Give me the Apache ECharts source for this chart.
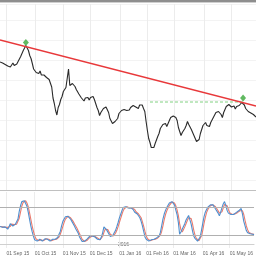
<!DOCTYPE html>
<html><head><meta charset="utf-8">
<script src="https://cdn.jsdelivr.net/npm/echarts@6/dist/echarts.min.js"></script>
<style>html,body{margin:0;padding:0;background:#fff}#c{width:256px;height:256px}</style>
</head><body><div id="c"></div>
<script>
// trading days (weekdays) from 25 Aug 2015
const startDate = '2015-08-25';
const dayCount = 199;
const monthNames = ['Jan','Feb','Mar','Apr','May','Jun','Jul','Aug','Sep','Oct','Nov','Dec'];

const closePrice = [
138,136.5,137,135,135.5,133.5,134,132,133,134.5,
137,134.5,135,136,138.5,140.5,143.5,145.5,149.5,151.5,
154.5,152,149.5,144.5,141.5,136.5,131,129.5,127.5,129.5,
126.5,129,125,126.5,125,124.5,122.5,123.5,120.5,119,
113,102,96.5,89.5,85,92.5,95.5,100.5,103.5,108.5,
110.5,112.5,113.5,131,114.5,114.5,116.5,114.5,113.5,110.5,
109.5,106,106.5,102,102.5,99,102,100.5,102.5,100,
102.5,102.5,103.5,100.5,98.5,92.5,89.5,84.5,87.5,88.5,
91.5,91.5,93,91.5,87.5,81.5,79.5,76.5,78.5,78.5,
80.5,81.5,86.5,87.5,89.5,89.5,90.5,89,89.5,87.5,
90,92.5,93,94.5,95,93,94.5,91.5,95,94,
95,91.5,88.5,78.5,69.5,61.5,57.5,52.5,50.5,52.5,
56.5,58.5,63.5,66.5,71.5,72.5,75.5,76.5,76.5,73.5,
74.5,79.5,82.5,84.5,84,85.5,82.5,79.5,72.5,68.5,
64.5,67.5,68.5,71.5,74.5,78.5,75.5,74.5,70.5,68.5,
64.5,62.5,58.5,57.5,60.5,66.5,70.5,74.5,75.5,77.5,
74.5,73.5,73.5,77.5,79.5,82.5,84.5,87.5,87,88.5,
86.5,85.5,82.5,87.5,90.5,93.5,93.5,95.5,93.5,93,
91,94,91,93.5,92,94.5,95,97.5,95.5,95,
91.5,91.5,88.5,88.5,87,87.5,85.5,84,83
];

const stochK = [
39,38,37,36,38,41,33,38,45,48,
40,42,44,45,55,72,84,93,97,95,
92,83,70,55,40,28,18,10,8,7,
9,11,9,7,9,12,14,11,8,7,
9,11,11,11,11,15,22,28,40,50,
55,60,62,61,59,55,50,46,40,34,
30,24,16,11,6,5,7,9,12,15,
18,18,18,17,16,15,11,8,10,16,
25,38,35,32,28,22,17,18,20,22,
30,38,47,57,65,73,80,81,82,82,
79,76,80,82,75,70,67,66,65,58,
50,40,28,16,11,8,7,8,10,11,
11,12,14,16,18,26,40,55,66,74,
80,84,90,92,93,90,86,75,65,48,
22,27,33,37,45,53,58,63,60,44,
30,18,13,9,7,8,16,30,45,60,
70,76,81,84,86,86,86,82,77,74,
68,62,70,80,88,93,85,74,68,66,
65,65,65,67,69,71,73,76,78,66,
50,40,30,25,24,23,22,22,21
];

const stochD = [
39,38.5,38,37,37,38,37,37,39,44,
44,43,42,44,48,57,70,83,91,95,
95,90,82,69,55,41,29,19,12,8,
8,9,10,9,8,9,12,12,11,9,
8,9,10,11,11,12,16,22,30,39,
48,55,59,61,61,58,55,50,45,40,
35,29,23,17,11,7,6,7,9,12,
15,17,18,18,17,16,14,11,10,11,
17,26,33,35,32,27,22,19,18,20,
24,30,38,47,56,65,73,78,81,82,
81,79,78,79,79,76,71,68,66,63,
58,49,39,28,18,12,9,8,8,10,
11,11,12,14,16,20,28,40,54,65,
73,79,85,89,92,92,90,84,75,63,
45,32,27,32,38,45,52,58,60,56,
45,31,20,13,10,8,10,18,30,45,
58,69,76,80,84,85,86,85,82,78,
73,68,67,71,79,87,89,84,76,69,
66,65,65,66,67,69,71,73,76,73,
65,52,40,32,26,24,23,22,22
];

// trend line (start index/value, end index/value)
const trendLine = [[0, 160], [198, 94]];
// horizontal resistance (dashed)
const resistLine = [[116, 98], [188, 98]];
// signal markers
const signalIdx = [20, 188];
const signalVal = [157.5, 102];
const stochLevels = [80, 20];
const yearLabel = '2016';

// build weekday date categories
const dates = [];
(function(){
  const d = new Date(startDate + 'T00:00:00Z');
  while (dates.length < dayCount) {
    const wd = d.getUTCDay();
    if (wd !== 0 && wd !== 6) dates.push(d.toISOString().slice(0,10));
    d.setUTCDate(d.getUTCDate() + 1);
  }
})();
const isMonthStart = dates.map((s,i)=> i>0 && s.slice(5,7) !== dates[i-1].slice(5,7));
function fmt(s){
  const m = +s.slice(5,7)-1;
  return '01 ' + monthNames[m] + ' ' + s.slice(2,4);
}
const monthInterval = (i)=> isMonthStart[i];

const chart = echarts.init(document.getElementById('c'), null, {renderer:'canvas'});
chart.setOption({
  animation:false,
  backgroundColor:'#ffffff',
  grid:[
    {left:0,right:0,top:4,height:186},
    {left:0,right:0,top:192,height:57}
  ],
  xAxis:[
    {type:'category',gridIndex:0,data:dates,boundaryGap:false,
     axisLine:{show:true,lineStyle:{color:'#c0c0c0',width:1}},
     axisTick:{show:false},axisLabel:{show:false},
     splitLine:{show:true,interval:monthInterval,lineStyle:{color:'#ececec',width:1}}},
    {type:'category',gridIndex:1,data:dates,boundaryGap:false,
     axisLine:{show:true,lineStyle:{color:'#d0d0d0',width:1}},
     axisTick:{show:false},
     axisLabel:{show:true,interval:monthInterval,formatter:fmt,fontSize:5,color:'#666',
       fontFamily:'Liberation Sans',align:'left',margin:3},
     splitLine:{show:true,interval:monthInterval,lineStyle:{color:'#ececec',width:1}}}
  ],
  yAxis:[
    {type:'value',gridIndex:0,min:10,max:196,splitNumber:12,
     axisLine:{show:false},axisTick:{show:false},axisLabel:{show:false},
     splitLine:{show:true,lineStyle:{color:'#f3f3f3',width:1}}},
    {type:'value',gridIndex:1,min:-8,max:114,
     axisLine:{show:false},axisTick:{show:false},axisLabel:{show:false},
     splitLine:{show:false}}
  ],
  series:[
    {type:'line',xAxisIndex:0,yAxisIndex:0,data:closePrice,symbol:'none',
     lineStyle:{color:'#2a2a2a',width:1.1},z:3},
    {type:'line',xAxisIndex:0,yAxisIndex:0,data:trendLine,symbol:'none',
     lineStyle:{color:'#e8383a',width:1.3},z:4},
    {type:'line',xAxisIndex:0,yAxisIndex:0,data:resistLine,symbol:'none',
     lineStyle:{color:'#7fcf7f',width:1,type:[3,2]},z:2},
    {type:'scatter',xAxisIndex:0,yAxisIndex:0,
     data:signalIdx.map((x,k)=>[x,signalVal[k]]),symbol:'diamond',symbolSize:[6,7],
     itemStyle:{color:'#3aa83a'},z:5},
    {type:'line',xAxisIndex:1,yAxisIndex:1,data:stochD,symbol:'none',
     lineStyle:{color:'#ea7a6c',width:1.1},z:3,
     markLine:{silent:true,symbol:'none',label:{show:false},
       lineStyle:{color:'#b0b0b0',width:1,type:'solid'},
       data:stochLevels.map(v=>({yAxis:v}))}},
    {type:'line',xAxisIndex:1,yAxisIndex:1,data:stochK,symbol:'none',
     lineStyle:{color:'#4f8fcf',width:1.1},z:4}
  ],
  graphic:[
    {type:'rect',left:0,top:0,shape:{width:256,height:2},style:{fill:'#8e8e8e'}},
    {type:'rect',left:0,top:2,shape:{width:256,height:1},style:{fill:'#cfcfcf'}},
    {type:'text',left:118,top:242,style:{text:yearLabel,fontSize:5,fill:'#666',fontFamily:'Liberation Sans'}}
  ]
});
</script></body></html>
